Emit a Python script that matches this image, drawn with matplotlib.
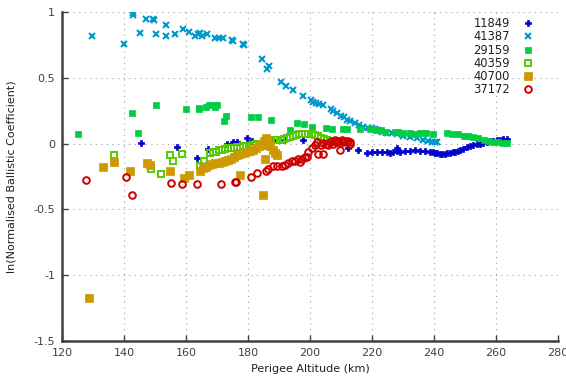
import numpy as np
import matplotlib
matplotlib.use("Agg")
import matplotlib.pyplot as plt

# ---- data: (perigee altitude km, ln normalised ballistic coefficient) ----
s11849 = [(145.5,0.005),(157.2,-0.025),(163.4,-0.11),(167.2,-0.04),(173.1,0.0),(175.3,0.01),
          (176.4,0.015),(179.6,0.04),(181.2,0.02),(188.2,0.03),(191.7,0.03),(197.7,0.03),
          (212.4,-0.03),(215.6,-0.05),(218.3,-0.07),(219.9,-0.066),(221.5,-0.06),(223.1,-0.06),
          (224.7,-0.063),(225.8,-0.07),(226.9,-0.066),(228.0,-0.058),(228.2,-0.03),(229.0,-0.06),
          (230.6,-0.058),(232.3,-0.053),(233.9,-0.05),(235.5,-0.053),(237.1,-0.058),(238.7,-0.063),
          (239.5,-0.066),(240.3,-0.07),(241.1,-0.073),(241.9,-0.076),(242.7,-0.077),(243.5,-0.076),
          (244.3,-0.074),(245.2,-0.07),(246.0,-0.066),(246.8,-0.06),(247.6,-0.053),(248.4,-0.046),
          (249.4,-0.038),(250.5,-0.028),(251.6,-0.02),(252.7,-0.013),(253.7,-0.006),(254.8,0.0),
          (255.9,0.007),(257.0,0.013),(258.0,0.018),(259.1,0.023),(260.2,0.027),(261.3,0.03),
          (262.3,0.033),(263.4,0.035)]

s41387 = [(129.8,0.82),(140.0,0.76),(142.8,0.99),(142.9,0.98),(145.3,0.84),(147.1,0.95),
          (149.5,0.95),(149.8,0.94),(150.4,0.83),(153.4,0.90),(153.6,0.82),(156.5,0.83),
          (159.1,0.87),(161.1,0.85),(163.0,0.82),(163.9,0.83),(164.6,0.84),(165.1,0.82),
          (166.7,0.83),(169.5,0.80),(170.7,0.80),(172.0,0.80),(174.9,0.79),(175.3,0.78),
          (178.4,0.76),(178.7,0.75),(184.6,0.64),(186.2,0.57),(186.7,0.59),(190.5,0.47),
          (192.4,0.44),(194.4,0.41),(197.6,0.36),(200.3,0.33),(201.0,0.32),(201.9,0.31),
          (202.8,0.30),(204.2,0.29),(206.9,0.26),(207.5,0.25),(208.8,0.23),(209.9,0.21),
          (211.0,0.20),(212.0,0.18),(212.9,0.17),(214.5,0.16),(215.8,0.145),(217.2,0.13),
          (218.8,0.12),(219.9,0.12),(221.0,0.11),(222.0,0.10),(223.3,0.09),(224.7,0.08),
          (226.4,0.08),(228.0,0.07),(230.1,0.06),(232.3,0.05),(234.4,0.04),(236.5,0.03),
          (238.2,0.02),(239.3,0.015),(240.3,0.01),(241.1,0.01)]

s29159 = [(125.3,0.07),(142.5,0.23),(144.5,0.08),(150.4,0.29),(160.0,0.26),(164.2,0.27),
          (164.3,0.26),(166.4,0.28),(167.5,0.29),(169.1,0.29),(169.5,0.28),(169.9,0.29),
          (172.3,0.17),(172.9,0.21),(180.9,0.20),(183.2,0.20),(187.4,0.18),(193.5,0.10),
          (195.8,0.16),(198.2,0.15),(200.5,0.13),(205.2,0.12),(207.0,0.11),(210.5,0.11),
          (212.0,0.11),(216.1,0.11),(219.4,0.11),(221.3,0.10),(222.9,0.10),(224.2,0.09),
          (227.4,0.09),(228.5,0.09),(230.1,0.08),(232.3,0.08),(233.9,0.07),(235.5,0.08),
          (237.4,0.08),(239.8,0.07),(244.1,0.08),(245.7,0.07),(247.8,0.07),(249.5,0.06),
          (251.1,0.055),(252.7,0.05),(254.3,0.04),(256.0,0.03),(257.5,0.02),(259.1,0.015),
          (260.7,0.01),(262.3,0.005),(263.4,0.005)]

s40359 = [(136.7,-0.09),(148.6,-0.19),(151.9,-0.23),(154.9,-0.09),(155.7,-0.13),(158.8,-0.08),
          (164.5,-0.17),(165.9,-0.13),(167.7,-0.07),(168.8,-0.06),(169.7,-0.06),
          (170.5,-0.05),(171.5,-0.045),(172.5,-0.04),(173.5,-0.035),(174.5,-0.03),(175.5,-0.03),
          (176.5,-0.025),(177.5,-0.025),(178.5,-0.02),(179.5,-0.02),(180.5,-0.015),(181.5,-0.01),
          (182.5,-0.005),(183.5,0.0),(184.5,0.0),(185.5,0.005),(186.5,0.01),(187.5,0.02),
          (188.5,0.025),(189.5,0.03),(190.5,0.03),(191.5,0.035),(192.5,0.04),(193.5,0.05),
          (194.5,0.055),(195.5,0.065),(196.5,0.07),(197.5,0.075),(198.5,0.075),(199.5,0.075),
          (200.5,0.07),(201.5,0.065),(202.5,0.055),(203.5,0.045),(204.5,0.035),(205.5,0.03),
          (206.5,0.02),(207.2,0.015)]

s40700 = [(128.8,-1.17),(133.3,-0.18),(136.7,-0.14),(141.9,-0.21),(147.3,-0.15),(148.4,-0.16),
          (154.7,-0.21),(159.5,-0.26),(161.1,-0.24),(164.6,-0.21),(177.4,-0.24),(184.8,-0.39),
          (185.5,-0.12),(165.6,-0.185),(166.5,-0.175),(167.5,-0.16),(168.5,-0.155),(169.5,-0.147),
          (170.5,-0.145),(171.5,-0.14),(172.5,-0.135),(173.5,-0.125),(174.5,-0.115),(175.5,-0.10),
          (176.5,-0.09),(177.5,-0.08),(178.5,-0.07),(179.5,-0.06),(180.5,-0.055),(181.5,-0.045),
          (182.5,-0.035),(183.5,-0.02),(184.5,-0.01),(185.3,0.02),(185.8,0.04),(186.3,0.01),
          (187.0,-0.02),(188.0,-0.05),(188.8,-0.07),(189.4,-0.085)]

s37172 = [(127.7,-0.28),(140.5,-0.25),(142.5,-0.39),(155.3,-0.30),(158.6,-0.31),(163.4,-0.31),
          (171.3,-0.31),(175.8,-0.29),(176.0,-0.29),(180.9,-0.25),(182.8,-0.22),(185.8,-0.21),
          (186.6,-0.19),(188.2,-0.17),(189.3,-0.17),(190.9,-0.17),(191.9,-0.16),(193.0,-0.15),
          (194.1,-0.135),(195.2,-0.135),(196.2,-0.12),(196.8,-0.14),(197.3,-0.115),(198.4,-0.10),
          (198.9,-0.10),(199.5,-0.06),(200.5,-0.03),(201.6,-0.01),(202.2,0.01),(202.7,-0.08),
          (204.1,-0.08),(204.3,0.005),(203.5,-0.01),(205.0,0.0),(205.9,-0.01),(206.5,0.01),
          (207.0,0.02),(207.5,0.0),(208.1,0.025),(208.5,0.015),(209.1,0.02),(209.5,0.01),
          (210.2,0.025),(210.7,0.015),(211.3,0.02),(211.8,0.01),(212.4,0.02),(212.8,0.0),
          (212.9,0.01),(209.7,-0.05)]

labels = ["11849", "41387", "29159", "40359", "40700", "37172"]
xticks = [120, 140, 160, 180, 200, 220, 240, 260, 280]
yticks = [-1.5, -1, -0.5, 0, 0.5, 1]
ytick_labels = ["-1.5", "-1", "-0.5", "0", "0.5", "1"]

styles = [
    dict(marker="P", color="#0000cc", ms=4.0, mfc="#0000cc", mec="#0000cc", mew=0.5),
    dict(marker="x", color="#0099cc", ms=4.5, mec="#0099cc", mew=1.5),
    dict(marker="s", color="#00cc44", ms=5.0, mfc="#00cc44", mec="#00cc44", mew=0.5),
    dict(marker="s", color="#55cc00", ms=4.6, mfc="none", mec="#55cc00", mew=1.4),
    dict(marker="s", color="#cc9900", ms=5.8, mfc="#cc9900", mec="#cc9900", mew=0.5),
    dict(marker="o", color="#cc0000", ms=4.8, mfc="none", mec="#cc0000", mew=1.4),
]

series = [s11849, s41387, s29159, s40359, s40700, s37172]

fig = plt.figure(figsize=(5.66, 3.76), dpi=100)
ax = fig.add_axes([0.1095, 0.093, 0.8765, 0.875])

for data, lab, st in zip(series, labels, styles):
    arr = np.array(data).T
    ax.plot(arr[0], arr[1], linestyle="none", label=lab, **st)

ax.set_xlim(120, 280)
ax.set_ylim(-1.5, 1)
ax.set_xticks(xticks)
ax.set_yticks(yticks)
ax.set_yticklabels(ytick_labels)
ax.grid(True, color="#a0a0a0", linestyle=(0, (1, 4)), linewidth=0.8)
ax.set_axisbelow(True)

for s in ["top", "right"]:
    ax.spines[s].set_visible(False)
for s in ["left", "bottom"]:
    ax.spines[s].set_color("#404040")
    ax.spines[s].set_linewidth(1.8)

ax.tick_params(direction="in", length=4, width=1, colors="#404040", labelsize=8,
               labelcolor="#404040")
ax.tick_params(axis="x", pad=5)
ax.tick_params(axis="y", pad=5)

ax.set_xlabel("Perigee Altitude (km)", fontsize=8, color="#202020", labelpad=4)
ax.set_ylabel("ln(Normalised Ballistic Coefficient)", fontsize=8, color="#202020", labelpad=12)

leg = ax.legend(loc="upper right", bbox_to_anchor=(0.962, 1.0), markerfirst=False,
                frameon=False, fontsize=8.3, labelspacing=0.02, handlelength=1.0,
                handletextpad=1.1, borderaxespad=0.2, borderpad=0.25)
for t in leg.get_texts():
    t.set_color("#202020")

fig.savefig("out.png", dpi=100)
